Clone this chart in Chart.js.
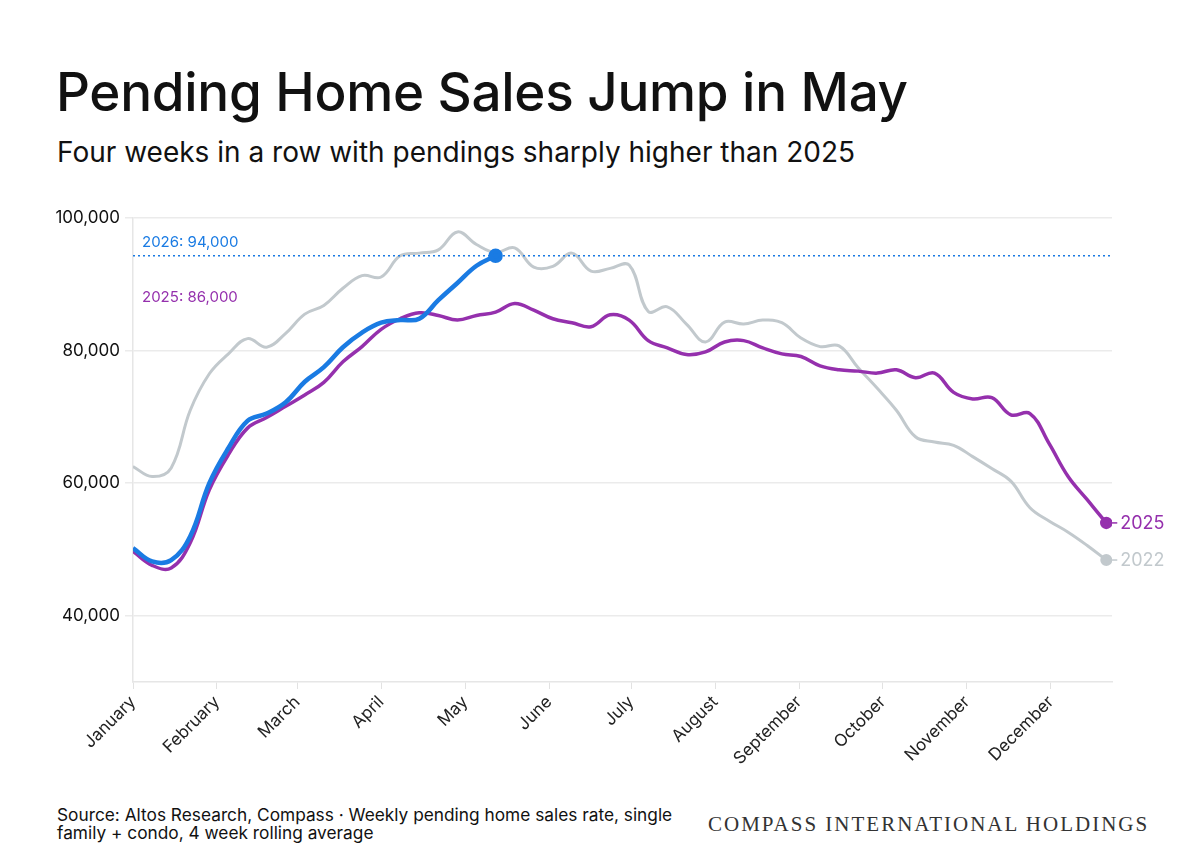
<!DOCTYPE html>
<html>
<head>
<meta charset="utf-8">
<script src="https://cdn.jsdelivr.net/npm/chart.js@4/dist/chart.umd.min.js"></script>
<style>
  body { margin: 0; background: #fff; font-family: Inter, "Noto Sans", sans-serif; color: #111; }
  #page { position: relative; width: 1200px; height: 867px; overflow: hidden; }
  #title { position: absolute; left: 56px; top: 66px; font-size: 53px; line-height: 53px; font-weight: 500; letter-spacing: -0.3px; white-space: nowrap; }
  #subtitle { position: absolute; left: 57px; top: 138px; font-size: 28px; line-height: 28px; font-weight: 400; white-space: nowrap; }
  #source { position: absolute; left: 57px; top: 806px; font-size: 17.3px; line-height: 18px; white-space: nowrap; }
  #brand { position: absolute; left: 708px; top: 814px; font-family: "Liberation Serif", "DejaVu Serif", serif; font-size: 21px; line-height: 21px; letter-spacing: 2px; color: #333; white-space: nowrap; }
  #wrap { position: absolute; left: 0; top: 190px; width: 1200px; height: 610px; }
</style>
</head>
<body>
<div id="page">
  <div id="title">Pending Home Sales Jump in May</div>
  <div id="subtitle">Four weeks in a row with pendings sharply higher than 2025</div>
  <div id="wrap"><canvas id="chart"></canvas></div>
  <div id="source">Source: Altos Research, Compass · Weekly pending home sales rate, single<br>family + condo, 4 week rolling average</div>
  <div id="brand">COMPASS INTERNATIONAL HOLDINGS</div>
</div>
<script>
// month tick labels and where they sit, in weeks from the first data point
const months = ['January', 'February', 'March', 'April', 'May', 'June', 'July', 'August', 'September', 'October', 'November', 'December'];
const monthWeeks = [0, 4.4, 8.6, 13.0, 17.4, 21.8, 26.1, 30.5, 34.9, 39.3, 43.7, 48.1];
const yTicks = [40000, 60000, 80000, 100000];

// weekly pendings, 4 week rolling average
const sales2022 = [62500, 61000, 62300, 71000, 76500, 79500, 81800, 80500, 82600, 85500,
    86800, 89400, 91300, 91100, 94300, 94700, 95200, 97900, 96000, 94800,
    95500, 92600, 92700, 94700, 92000, 92400, 92900, 85900, 86600, 84000,
    81300, 84300, 84000, 84600, 84200, 81900, 80600, 80700, 77400, 74300,
    71000, 67000, 66200, 65700, 64000, 62200, 60300, 56300, 54300, 52600,
    50600, 48400];
const sales2025 = [49700, 47600, 47200, 51000, 59000, 64300, 68300, 69900, 71600, 73300,
    75200, 78300, 80600, 83200, 84800, 85700, 85300, 84600, 85300, 85800,
    87100, 86100, 84800, 84200, 83600, 85400, 84600, 81500, 80400, 79400,
    79800, 81300, 81500, 80400, 79500, 79100, 77700, 77100, 76900, 76600,
    77100, 75900, 76600, 73700, 72700, 72900, 70300, 70500, 66000, 61000,
    57500, 54000];
const sales2026 = [50200, 48200, 48400, 52000, 60000, 65300, 69400, 70500, 72200, 75300,
    77500, 80500, 82700, 84200, 84600, 84800, 87600, 90200, 92800, 94300];

const blue = '#1a7be3';
const purple = '#9530ad';
const gray = '#c2c9cd';

(function(){
    function toPoints(values) {
        return values.map(function(v, i) { return {x: i, y: v}; });
    }

    function lastDot(size) {
        return function(ctx) {
            return ctx.dataIndex === ctx.dataset.data.length - 1 ? size : 0;
        };
    }

    // dotted 2026 line, value labels and series names at the line ends
    const notes = {
        id: 'notes',
        afterDatasetsDraw(chart) {
            const c = chart.ctx;
            const area = chart.chartArea;
            const y = chart.scales.y;
            const lineY = y.getPixelForValue(sales2026[sales2026.length - 1]);

            c.save();
            c.strokeStyle = blue;
            c.lineWidth = 1.5;
            c.setLineDash([2, 3]);
            c.beginPath();
            c.moveTo(area.left, lineY);
            c.lineTo(area.right, lineY);
            c.stroke();
            c.setLineDash([]);

            c.font = '15px Inter, sans-serif';
            c.textBaseline = 'middle';
            c.textAlign = 'left';
            c.fillStyle = blue;
            c.fillText('2026: 94,000', area.left + 9, lineY - 13);
            c.fillStyle = purple;
            c.fillText('2025: 86,000', area.left + 9, lineY + 42);

            c.font = '18px Inter, sans-serif';
            [[1, purple, '2025'], [2, gray, '2022']].forEach(function(item) {
                const meta = chart.getDatasetMeta(item[0]);
                const pt = meta.data[meta.data.length - 1];
                c.strokeStyle = item[1];
                c.lineWidth = 1.5;
                c.beginPath();
                c.moveTo(pt.x + 4, pt.y);
                c.lineTo(pt.x + 11, pt.y);
                c.stroke();
                c.fillStyle = item[1];
                c.fillText(item[2], pt.x + 14, pt.y + 1);
            });
            c.restore();
        }
    };

    const config = {
        type: 'line',
        data: {
            datasets: [
                {
                    label: '2026',
                    data: toPoints(sales2026),
                    borderColor: blue,
                    backgroundColor: blue,
                    borderWidth: 4.5,
                    pointRadius: lastDot(5),
                    tension: 0.4,
                    fill: false
                },
                {
                    label: '2025',
                    data: toPoints(sales2025),
                    borderColor: purple,
                    backgroundColor: purple,
                    borderWidth: 3.5,
                    pointRadius: lastDot(4.5),
                    tension: 0.4,
                    fill: false
                },
                {
                    label: '2022',
                    data: toPoints(sales2022),
                    borderColor: gray,
                    backgroundColor: gray,
                    borderWidth: 3,
                    pointRadius: lastDot(4.5),
                    tension: 0.4,
                    fill: false
                }
            ]
        },
        options: {
            responsive: true,
            maintainAspectRatio: false,
            animation: false,
            layout: {
                padding: {top: 28, right: 88, left: 0, bottom: 0}
            },
            plugins: {
                legend: {display: false},
                tooltip: {enabled: false}
            },
            scales: {
                x: {
                    type: 'linear',
                    min: 0,
                    max: 51.3,
                    afterBuildTicks: function(scale) {
                        scale.ticks = monthWeeks.map(function(v) { return {value: v}; });
                    },
                    afterFit: function(scale) {
                        scale.height = 118;
                    },
                    grid: {
                        drawOnChartArea: false,
                        tickLength: 7,
                        color: '#e2e2e2'
                    },
                    border: {color: '#e6e6e6', width: 1.5},
                    ticks: {
                        autoSkip: false,
                        minRotation: 45,
                        maxRotation: 45,
                        padding: 3,
                        color: '#222',
                        font: {family: 'Inter, sans-serif', size: 17},
                        callback: function(value, index) {
                            return months[index];
                        }
                    }
                },
                y: {
                    min: 30000,
                    max: 100000,
                    afterBuildTicks: function(scale) {
                        scale.ticks = yTicks.map(function(v) { return {value: v}; });
                    },
                    afterFit: function(scale) {
                        scale.width = 133;
                    },
                    grid: {
                        color: '#ebebeb',
                        lineWidth: 1.5,
                        tickLength: 8
                    },
                    border: {color: '#e6e6e6', width: 1.5},
                    ticks: {
                        padding: 5,
                        color: '#111',
                        font: {family: 'Inter, sans-serif', size: 17},
                        callback: function(value) {
                            return new Intl.NumberFormat('en-US').format(value);
                        }
                    }
                }
            }
        },
        plugins: [notes]
    };

    new Chart(document.getElementById('chart').getContext('2d'), config);
})();
</script>
</body>
</html>
